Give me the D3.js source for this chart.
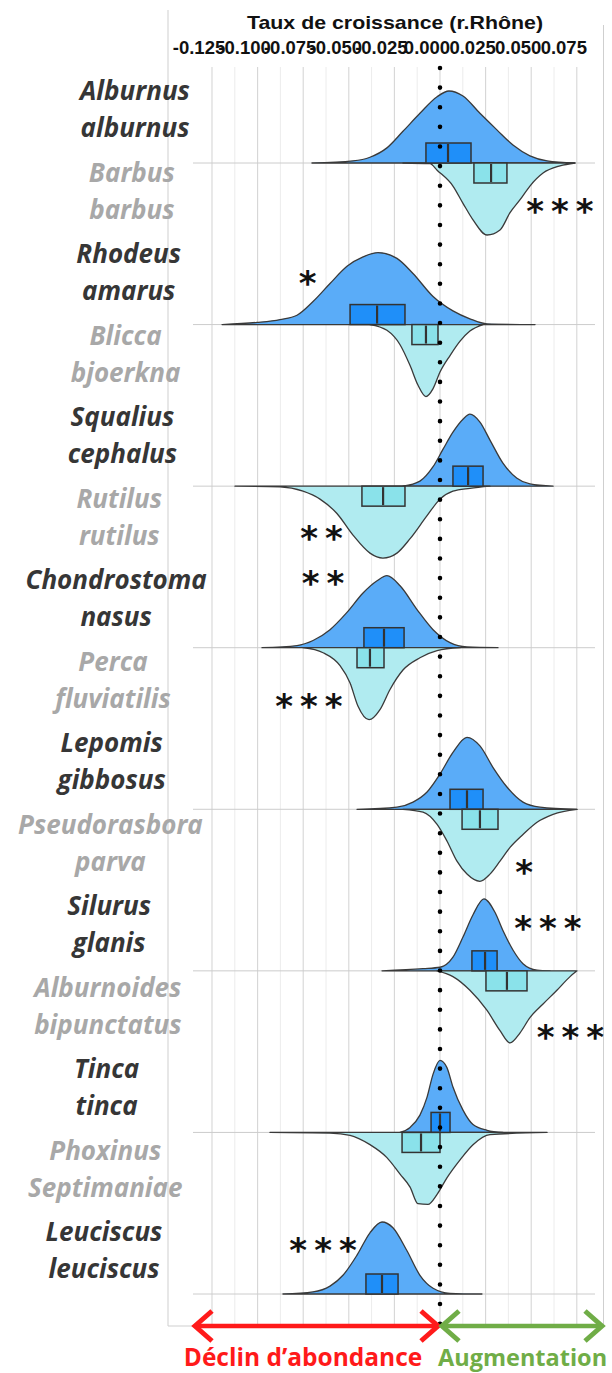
<!DOCTYPE html>
<html><head><meta charset="utf-8">
<script src="https://cdn.jsdelivr.net/npm/d3@7"></script>
<style>html,body{margin:0;padding:0;background:#fff;} svg{display:block;}</style>
</head><body>
<svg id="chart" width="612" height="1373"></svg>
<script>
// ---------------- DATA ----------------
const axisTitle = "Taux de croissance (r.Rhône)";
const tickValues = [-0.125, -0.100, -0.075, -0.050, -0.025, 0.000, 0.025, 0.050, 0.075];
const tickLabels = ["-0.125", "-0.100", "-0.075", "-0.050", "-0.025", "0.000", "0.025", "0.050", "0.075"];

// species in drawing order: even index = upper half (dark), odd index = lower half (light)
const genus   = ["Alburnus","Barbus","Rhodeus","Blicca","Squalius","Rutilus","Chondrostoma","Perca",
                 "Lepomis","Pseudorasbora","Silurus","Alburnoides","Tinca","Phoxinus","Leuciscus"];
const epithet = ["alburnus","barbus","amarus","bjoerkna","cephalus","rutilus","nasus","fluviatilis",
                 "gibbosus","parva","glanis","bipunctatus","tinca","Septimaniae","leuciscus"];

// box (interval) : low, mean, high
const boxLow  = [-0.0077, 0.0186, -0.0493, -0.0154, 0.0071, -0.0428, -0.0417, -0.0455, 0.0055, 0.0121, 0.0175, 0.0252, -0.0049, -0.0208, -0.0406];
const boxMean = [ 0.0044, 0.0280, -0.0345, -0.0077, 0.0154, -0.0312, -0.0307, -0.0384, 0.0148, 0.0219, 0.0247, 0.0367,  0.0000, -0.0104, -0.0318];
const boxHigh = [ 0.0170, 0.0367, -0.0192, -0.0011, 0.0236, -0.0192, -0.0197, -0.0307, 0.0236, 0.0318, 0.0313, 0.0477,  0.0055,  0.0000, -0.0230];

// density profiles (growth-rate value, relative density)
const densX = [
 [-0.0702,-0.0477,-0.0384,-0.0291,-0.0203,-0.0110,-0.0016,0.0049,0.0126,0.0219,0.0312,0.0400,0.0493,0.0587,0.0740],
 [-0.0203,-0.0055,-0.0016,0.0071,0.0126,0.0181,0.0258,0.0329,0.0384,0.0439,0.0493,0.0565,0.0658,0.0740],
 [-0.1195,-0.1003,-0.0877,-0.0784,-0.0696,-0.0603,-0.0510,-0.0422,-0.0340,-0.0236,-0.0148,-0.0038,0.0071,0.0164,0.0258,0.0521],
 [-0.0384,-0.0291,-0.0219,-0.0164,-0.0121,-0.0077,-0.0038,0.0000,0.0055,0.0110,0.0164,0.0236],
 [-0.0203,-0.0110,-0.0038,0.0016,0.0071,0.0126,0.0164,0.0219,0.0274,0.0345,0.0422,0.0493,0.0620],
 [-0.1124,-0.0877,-0.0751,-0.0658,-0.0565,-0.0477,-0.0384,-0.0313,-0.0236,-0.0164,-0.0071,0.0000,0.0071,0.0164,0.0274],
 [-0.0976,-0.0784,-0.0696,-0.0603,-0.0510,-0.0422,-0.0345,-0.0291,-0.0219,-0.0126,-0.0038,0.0055,0.0148,0.0318],
 [-0.0751,-0.0641,-0.0548,-0.0493,-0.0450,-0.0389,-0.0329,-0.0274,-0.0203,-0.0110,-0.0016,0.0110],
 [-0.0455,-0.0236,-0.0148,-0.0071,0.0000,0.0071,0.0148,0.0219,0.0291,0.0367,0.0455,0.0548,0.0751],
 [-0.0203,-0.0093,-0.0016,0.0038,0.0093,0.0148,0.0219,0.0274,0.0329,0.0384,0.0455,0.0532,0.0620,0.0751],
 [-0.0318,-0.0093,0.0000,0.0071,0.0126,0.0181,0.0241,0.0302,0.0345,0.0400,0.0455,0.0532,0.0603],
 [-0.0016,0.0071,0.0164,0.0258,0.0329,0.0384,0.0439,0.0493,0.0565,0.0641,0.0713,0.0751],
 [-0.0219,-0.0164,-0.0110,-0.0071,-0.0038,0.0000,0.0038,0.0071,0.0126,0.0181,0.0258,0.0345],
 [-0.0932,-0.0603,-0.0493,-0.0384,-0.0291,-0.0219,-0.0164,-0.0121,-0.0066,-0.0016,0.0038,0.0110,0.0181,0.0274,0.0587],
 [-0.0861,-0.0696,-0.0603,-0.0532,-0.0455,-0.0384,-0.0318,-0.0258,-0.0181,-0.0110,-0.0038,0.0055,0.0230]
];
const densY = [
 [0,.03,.08,.21,.44,.69,.92,1,.93,.69,.46,.25,.10,.03,0],
 [0,.01,.10,.32,.56,.79,1,.93,.69,.51,.32,.14,.04,0],
 [0,.03,.07,.13,.32,.57,.81,.94,1,.92,.71,.39,.19,.08,.01,0],
 [0,.08,.28,.57,.84,1,.89,.66,.43,.23,.09,0],
 [0,.07,.27,.51,.75,.93,1,.89,.64,.32,.11,.03,0],
 [0,.01,.07,.18,.38,.68,.93,1,.93,.73,.41,.18,.07,.03,0],
 [0,.03,.10,.25,.49,.76,.93,1,.86,.53,.25,.07,.01,0],
 [0,.07,.25,.49,.81,1,.86,.58,.31,.14,.04,0],
 [0,.03,.10,.24,.49,.79,1,.88,.58,.31,.10,.03,0],
 [0,.04,.21,.44,.72,.90,1,.90,.72,.53,.35,.18,.07,0],
 [0,.03,.05,.19,.47,.78,1,.81,.56,.29,.10,.01,0],
 [0,.08,.27,.55,.83,1,.86,.65,.46,.27,.08,0],
 [0,.07,.24,.49,.81,1,.90,.63,.31,.11,.03,0],
 [0,.01,.04,.17,.35,.58,.76,.99,1,.86,.63,.38,.17,.03,0],
 [0,.03,.11,.26,.54,.85,1,.92,.60,.26,.08,.01,0]
];

// significance annotations: species index, text, x value, density-level height
const sigSpecies = [1, 2, 5, 6, 7, 9, 10, 11, 14];
const sigText    = ["***", "*", "**", "**", "***", "*", "***", "***", "***"];
const sigX       = [0.0655, -0.0729, -0.0652, -0.0644, -0.0721, 0.0458, 0.0589, 0.0712, -0.0644];
const sigLevel   = [0.54, 0.71, 0.60, 1.03, 0.68, 0.75, 0.72, 0.79, 0.74];

const declineText = "Déclin d’abondance";
const increaseText = "Augmentation";

// ---------------- LAYOUT ----------------
const svg = d3.select("#chart");
const x = d3.scaleLinear().domain([-0.125, 0.075]).range([212, 576.8]);
const rowY = d3.scalePoint().domain(d3.range(8)).range([163, 1294]);
const hScale = d3.scaleLinear().domain([0, 1]).range([0, 72]);
const labelY = d3.scaleLinear().domain([0, 14]).range([100, 1241]);
const labelX = d3.scaleLinear().domain([0, 7, 14]).range([135, 113, 104]);
const gridTop = 67, gridBottom = 1326;
const boxH = 20;

const colTopFill = "#5aacf8", colTopBox = "#1f8ff9";
const colBotFill = "#b0ebf0", colBotBox = "#8ae2ea";

// panel borders
svg.append("line").attr("x1",168).attr("x2",168).attr("y1",10).attr("y2",gridBottom).attr("stroke","#cfcfcf");
svg.append("line").attr("x1",603.5).attr("x2",603.5).attr("y1",25).attr("y2",gridBottom).attr("stroke","#cfcfcf");
svg.append("line").attr("x1",168).attr("x2",603.5).attr("y1",gridBottom).attr("y2",gridBottom).attr("stroke","#cfcfcf");

// minor grid
const minor = tickValues.slice(0,-1).map((v,i)=> (v + tickValues[i+1]) / 2);
svg.append("g").selectAll("line").data(minor).join("line")
  .attr("x1", d=>x(d)).attr("x2", d=>x(d)).attr("y1", gridTop).attr("y2", gridBottom)
  .attr("stroke", "#ececec").attr("stroke-width", 1);
// major grid
svg.append("g").selectAll("line").data(tickValues).join("line")
  .attr("x1", d=>x(d)).attr("x2", d=>x(d)).attr("y1", gridTop).attr("y2", gridBottom)
  .attr("stroke", "#d6d6d6").attr("stroke-width", 1.1);

// row baselines
svg.append("g").selectAll("line").data(d3.range(8)).join("line")
  .attr("x1", 193).attr("x2", 595).attr("y1", d=>rowY(d)).attr("y2", d=>rowY(d))
  .attr("stroke", "#cccccc").attr("stroke-width", 1);

// axis title and tick labels
svg.append("text").attr("x", 395).attr("y", 28.5).attr("text-anchor","middle")
  .attr("font-family","'Liberation Sans', Arial, sans-serif").attr("font-weight","bold")
  .attr("font-size", 19).attr("textLength", 296).attr("lengthAdjust","spacingAndGlyphs")
  .attr("fill","#111").text(axisTitle);
svg.append("g").selectAll("text").data(tickValues).join("text")
  .attr("x", d=>x(d) - 13).attr("y", 53.5).attr("text-anchor","middle")
  .attr("font-family","'Liberation Sans', Arial, sans-serif").attr("font-weight","bold")
  .attr("font-size", 18.5).attr("fill","#111")
  .text((d,i)=>tickLabels[i]);

// violins
const gV = svg.append("g");
genus.forEach((g, i) => {
  const row = Math.floor(i/2), top = i % 2 === 0;
  const B = rowY(row);
  const pts = densX[i].map((v,k)=>[v, densY[i][k]]);
  const area = d3.area()
    .x(d=>x(d[0]))
    .y0(B)
    .y1(d=> top ? B - hScale(d[1]) : B + hScale(d[1]))
    .curve(d3.curveMonotoneX);
  gV.append("path").attr("d", area(pts))
    .attr("fill", top ? colTopFill : colBotFill)
    .attr("stroke", "#3a3a3a").attr("stroke-width", 1.3).attr("stroke-linejoin","round");
});
// boxes
const gB = svg.append("g");
genus.forEach((g, i) => {
  const row = Math.floor(i/2), top = i % 2 === 0;
  const B = rowY(row);
  const y0 = top ? B - boxH : B;
  gB.append("rect").attr("x", x(boxLow[i])).attr("y", y0)
    .attr("width", x(boxHigh[i]) - x(boxLow[i])).attr("height", boxH)
    .attr("fill", top ? colTopBox : colBotBox).attr("stroke", "#333").attr("stroke-width", 1.5);
  gB.append("line").attr("x1", x(boxMean[i])).attr("x2", x(boxMean[i]))
    .attr("y1", y0 + 1).attr("y2", y0 + boxH - 1)
    .attr("stroke", "#333").attr("stroke-width", 2.2);
});

// dotted zero line
svg.append("line").attr("x1", x(0)).attr("x2", x(0)).attr("y1", 68).attr("y2", 1324)
  .attr("stroke", "#000").attr("stroke-width", 4.6).attr("stroke-linecap","round")
  .attr("stroke-dasharray", "0 19.62");

// significance stars
svg.append("g").selectAll("text").data(sigSpecies).join("text")
  .attr("x", (s,k)=>x(sigX[k]) + 4)
  .attr("y", (s,k)=>{ const B = rowY(Math.floor(s/2)); return s % 2 === 0 ? B - hScale(sigLevel[k]) : B + hScale(sigLevel[k]); })
  .attr("dy", "0.62em")
  .attr("text-anchor","middle")
  .attr("font-family","'DejaVu Sans', sans-serif").attr("font-weight","bold").attr("font-size", 34)
  .attr("letter-spacing", 7).attr("fill","#111")
  .text((s,k)=>sigText[k]);

// species labels
const gL = svg.append("g").attr("font-family","'Open Sans', sans-serif")
  .attr("font-weight","bold").attr("font-style","italic").attr("font-size", 26);
genus.forEach((g, i) => {
  const top = i % 2 === 0;
  const t = gL.append("text").attr("text-anchor","middle")
    .attr("fill", top ? "#363636" : "#a8a8a8");
  t.append("tspan").attr("x", labelX(i)).attr("y", labelY(i)).text(g);
  t.append("tspan").attr("x", labelX(i)).attr("y", labelY(i) + 37).text(epithet[i]);
});

// arrows
const arrowY = 1326, arrowL = 195, arrowR = 602, head = 17, headH = 15;
function arrow(x1, x2, color) {
  const g = svg.append("g").attr("stroke", color).attr("fill","none");
  g.append("line").attr("x1", x1).attr("x2", x2).attr("y1", arrowY).attr("y2", arrowY).attr("stroke-width", 4.5);
  const dir = x2 > x1 ? 1 : -1;
  g.append("path").attr("d", `M${x2 - dir*head},${arrowY-headH} L${x2},${arrowY} L${x2 - dir*head},${arrowY+headH}`)
    .attr("stroke-width", 5).attr("stroke-linejoin","miter");
  g.append("path").attr("d", `M${x1 + dir*head},${arrowY-headH} L${x1},${arrowY} L${x1 + dir*head},${arrowY+headH}`)
    .attr("stroke-width", 5).attr("stroke-linejoin","miter");
}
arrow(x(0) - 2, arrowL, "#ff1a1a");
arrow(x(0) + 2, arrowR, "#70ad47");

svg.append("text").attr("x", 303).attr("y", 1366).attr("text-anchor","middle")
  .attr("font-family","'Open Sans', sans-serif").attr("font-weight","bold").attr("font-size", 24.5)
  .attr("fill","#ff1a1a").text(declineText);
svg.append("text").attr("x", 438).attr("y", 1366).attr("text-anchor","start")
  .attr("font-family","'Open Sans', sans-serif").attr("font-weight","bold").attr("font-size", 23.5)
  .attr("fill","#70ad47").text(increaseText);
</script>
</body></html>
